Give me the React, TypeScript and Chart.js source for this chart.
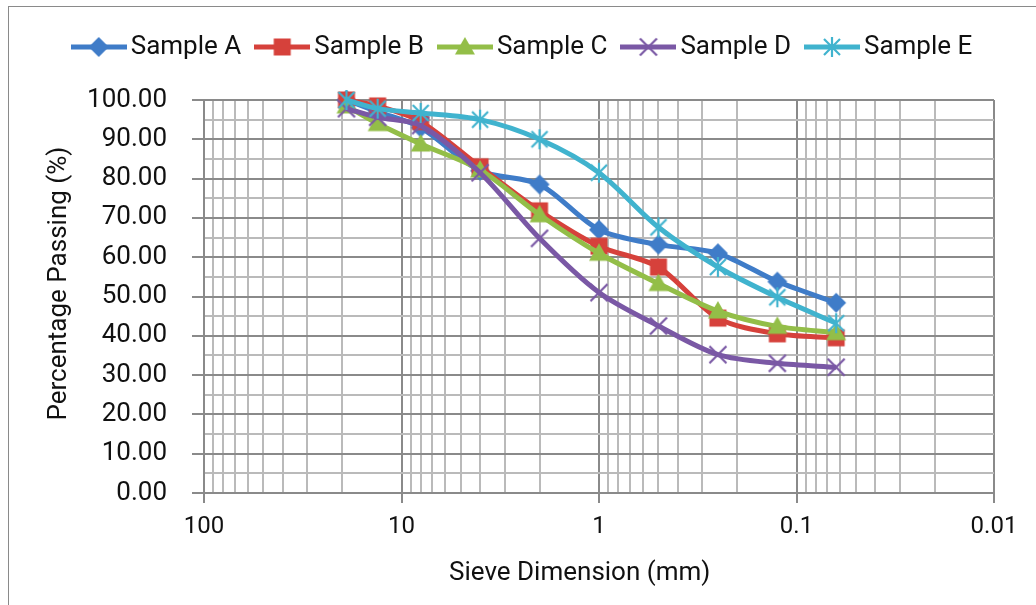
import React, { useEffect, useRef } from 'react';
import { Chart, registerables } from 'chart.js';

Chart.register(...registerables);

// ---- data ----
const sieveSizes = [19, 13.2, 8, 4, 2, 1, 0.5, 0.25, 0.125, 0.063];
const sampleA = [100, 97, 93, 82, 78.5, 67, 63.2, 61, 53.8, 48.4];
const sampleB = [100, 98.5, 94.5, 83, 71.8, 62.8, 57.5, 44.5, 40.5, 39.5];
const sampleC = [98.5, 94, 88.8, 82.2, 70.8, 61, 53.3, 46.3, 42.4, 40.8];
const sampleD = [97.8, 95.6, 93.5, 81.5, 64.8, 51, 42.5, 35.2, 33, 32];
const sampleE = [100, 97.8, 96.7, 95, 90, 81.5, 67.6, 57.5, 49.8, 43.2];

const seriesNames = ['Sample A', 'Sample B', 'Sample C', 'Sample D', 'Sample E'];
const seriesValues = [sampleA, sampleB, sampleC, sampleD, sampleE];
const seriesColors = ['#3F7CC8', '#D6413B', '#93BE48', '#7A58A5', '#40B3CE'];
const markerKinds = ['diamond', 'square', 'triangle', 'cross', 'asterisk'];

const xMajorTicks = [100, 10, 1, 0.1, 0.01];
const xMinorMultipliers = [2, 3, 4, 5, 6, 7, 8, 9];
const yMin = 0;
const yMax = 100;
const yStep = 5;
const yLabelStep = 10;

const xTitle = 'Sieve Dimension (mm)';
const yTitle = 'Percentage Passing (%)';

const FONT = 'Roboto, "Noto Sans", sans-serif';
const MAJOR_GRID = '#8a8a8a';
const MINOR_GRID = '#bababa';
const TEXT = '#111111';

function isMajor(v: number) {
  const l = Math.log10(v);
  return Math.abs(l - Math.round(l)) < 1e-9;
}

function buildXTicks(): number[] {
  const out: number[] = [];
  xMajorTicks.forEach((m) => {
    out.push(m);
    if (m < 100) {
      xMinorMultipliers.forEach((k) => out.push(Number((m * k).toPrecision(6))));
    }
  });
  return out.sort((a, b) => a - b);
}

function drawMarker(ctx: CanvasRenderingContext2D, kind: string, cx: number, cy: number, r: number, color: string) {
  ctx.fillStyle = color;
  ctx.strokeStyle = color;
  ctx.lineWidth = 2.2;
  ctx.beginPath();
  if (kind === 'diamond') {
    ctx.moveTo(cx, cy - r);
    ctx.lineTo(cx + r, cy);
    ctx.lineTo(cx, cy + r);
    ctx.lineTo(cx - r, cy);
    ctx.closePath();
    ctx.fill();
  } else if (kind === 'square') {
    const s = r * 0.85;
    ctx.rect(cx - s, cy - s, 2 * s, 2 * s);
    ctx.fill();
  } else if (kind === 'triangle') {
    ctx.moveTo(cx, cy - r);
    ctx.lineTo(cx + r, cy + r * 0.75);
    ctx.lineTo(cx - r, cy + r * 0.75);
    ctx.closePath();
    ctx.fill();
  } else if (kind === 'cross') {
    const s = r * 0.85;
    ctx.moveTo(cx - s, cy - s);
    ctx.lineTo(cx + s, cy + s);
    ctx.moveTo(cx + s, cy - s);
    ctx.lineTo(cx - s, cy + s);
    ctx.stroke();
  } else {
    const s = r * 0.8;
    ctx.moveTo(cx - s, cy - s);
    ctx.lineTo(cx + s, cy + s);
    ctx.moveTo(cx + s, cy - s);
    ctx.lineTo(cx - s, cy + s);
    ctx.moveTo(cx, cy - r);
    ctx.lineTo(cx, cy + r);
    ctx.stroke();
  }
}

function makeMarkerImage(kind: string, color: string): HTMLCanvasElement {
  const c = document.createElement('canvas');
  c.width = 24;
  c.height = 24;
  const ctx = c.getContext('2d')!;
  drawMarker(ctx, kind, 12, 12, 10, color);
  return c;
}

function makeLegendIcon(kind: string, color: string): HTMLCanvasElement {
  const c = document.createElement('canvas');
  c.width = 56;
  c.height = 24;
  const ctx = c.getContext('2d')!;
  ctx.strokeStyle = color;
  ctx.lineWidth = 5;
  ctx.beginPath();
  ctx.moveTo(0, 12);
  ctx.lineTo(56, 12);
  ctx.stroke();
  drawMarker(ctx, kind, 28, 12, 10, color);
  return c;
}

const LEGEND_TOP = 12;
const PLOT_TOP = 100;

const legendHeightPlugin = {
  id: 'legendHeight',
  beforeInit(chart: any) {
    const legend = chart.legend;
    if (!legend) return;
    const orig = legend.fit;
    legend.fit = function () {
      orig.call(this);
      this.height = PLOT_TOP - LEGEND_TOP;
    };
  },
};

export default function App() {
  const ref = useRef<HTMLCanvasElement>(null);

  useEffect(() => {
    if (!ref.current) return;
    Chart.defaults.font.family = FONT;
    const markerImages = markerKinds.map((k, i) => makeMarkerImage(k, seriesColors[i]));
    const legendIcons = markerKinds.map((k, i) => makeLegendIcon(k, seriesColors[i]));
    const xTicks = buildXTicks();

    const datasets = seriesValues.map((vals, i) => ({
      label: seriesNames[i],
      data: sieveSizes.map((x, j) => ({ x, y: vals[j] })),
      borderColor: seriesColors[i],
      backgroundColor: seriesColors[i],
      borderWidth: 5,
      tension: 0.3,
      pointStyle: markerImages[i] as any,
      pointRadius: 10,
      order: 5 - i,
      clip: false as any,
      yAxisID: 'y',
    }));

    const chart = new Chart(ref.current, {
      type: 'line',
      data: { datasets: datasets as any },
      plugins: [legendHeightPlugin as any],
      options: {
        responsive: false,
        animation: false,
        events: [],
        layout: { padding: { top: LEGEND_TOP, left: 16, right: 0, bottom: 0 } },
        plugins: {
          tooltip: { enabled: false },
          legend: {
            display: true,
            position: 'top',
            labels: {
              usePointStyle: true,
              pointStyleWidth: 38,
              padding: 22,
              color: TEXT,
              font: { size: 26, family: FONT },
              generateLabels: (c: any) => {
                const items = (Chart.defaults.plugins.legend.labels as any).generateLabels(c);
                items.sort((a: any, b: any) => a.datasetIndex - b.datasetIndex);
                return items.map((it: any) => ({
                  ...it,
                  pointStyle: legendIcons[it.datasetIndex],
                  lineWidth: 0,
                }));
              },
            },
          },
        },
        scales: {
          x: {
            type: 'logarithmic',
            reverse: true,
            min: 0.01,
            max: 100,
            afterBuildTicks: (s: any) => {
              s.ticks = xTicks.map((v) => ({ value: v, major: isMajor(v) }));
            },
            afterFit: (s: any) => {
              s.height = 112;
            },
            ticks: {
              autoSkip: false,
              maxRotation: 0,
              minRotation: 0,
              padding: 10,
              color: TEXT,
              font: { size: 24, family: FONT },
              callback: (v: any) => (isMajor(Number(v)) ? String(Number(v)) : ''),
            },
            grid: {
              lineWidth: 2,
              tickLength: 10,
              color: (ctx: any) => (ctx.tick && isMajor(ctx.tick.value) ? MAJOR_GRID : MINOR_GRID),
              tickColor: (ctx: any) => (ctx.tick && isMajor(ctx.tick.value) ? MAJOR_GRID : 'rgba(0,0,0,0)'),
            },
            border: { color: MAJOR_GRID, width: 2 },
            title: {
              display: true,
              text: xTitle + '      ',
              color: TEXT,
              font: { size: 26, family: FONT },
              padding: { top: 0, bottom: 16 },
            },
          } as any,
          y: {
            type: 'linear',
            position: 'left',
            min: yMin,
            max: yMax,
            afterFit: (s: any) => {
              s.width = 188;
            },
            ticks: {
              stepSize: yStep,
              autoSkip: false,
              padding: 25,
              color: TEXT,
              font: { size: 26, family: FONT },
              callback: (v: any) => (Number(v) % yLabelStep === 0 ? Number(v).toFixed(2) : ''),
            },
            grid: {
              lineWidth: 2,
              tickLength: 12,
              color: (ctx: any) => (ctx.tick && ctx.tick.value % yLabelStep === 0 ? MAJOR_GRID : MINOR_GRID),
              tickColor: (ctx: any) => (ctx.tick && ctx.tick.value % yLabelStep === 0 ? MAJOR_GRID : 'rgba(0,0,0,0)'),
            },
            border: { color: MAJOR_GRID, width: 2 },
            title: {
              display: true,
              text: '    ' + yTitle,
              color: TEXT,
              font: { size: 26, family: FONT },
              padding: { top: 28, bottom: 0 },
            },
          } as any,
          yRight: {
            type: 'linear',
            position: 'right',
            display: true,
            afterFit: (s: any) => {
              s.width = 42;
            },
            grid: { display: false, drawTicks: false },
            border: { display: false },
            ticks: { display: false },
          } as any,
        },
      },
    });
    return () => chart.destroy();
  }, []);

  return (
    <div
      style={{
        position: 'fixed',
        left: 0,
        top: 0,
        width: 1036,
        height: 605,
        background: '#ffffff',
        overflow: 'hidden',
      }}
    >
      <div
        style={{
          position: 'absolute',
          left: 8,
          top: 6,
          width: 1200,
          height: 800,
          border: '1.5px solid #8a8a8a',
        }}
      />
      <canvas
        ref={ref}
        width={1036}
        height={605}
        style={{ position: 'absolute', left: 0, top: 0, width: 1036, height: 605, display: 'block' }}
      />
    </div>
  );
}
